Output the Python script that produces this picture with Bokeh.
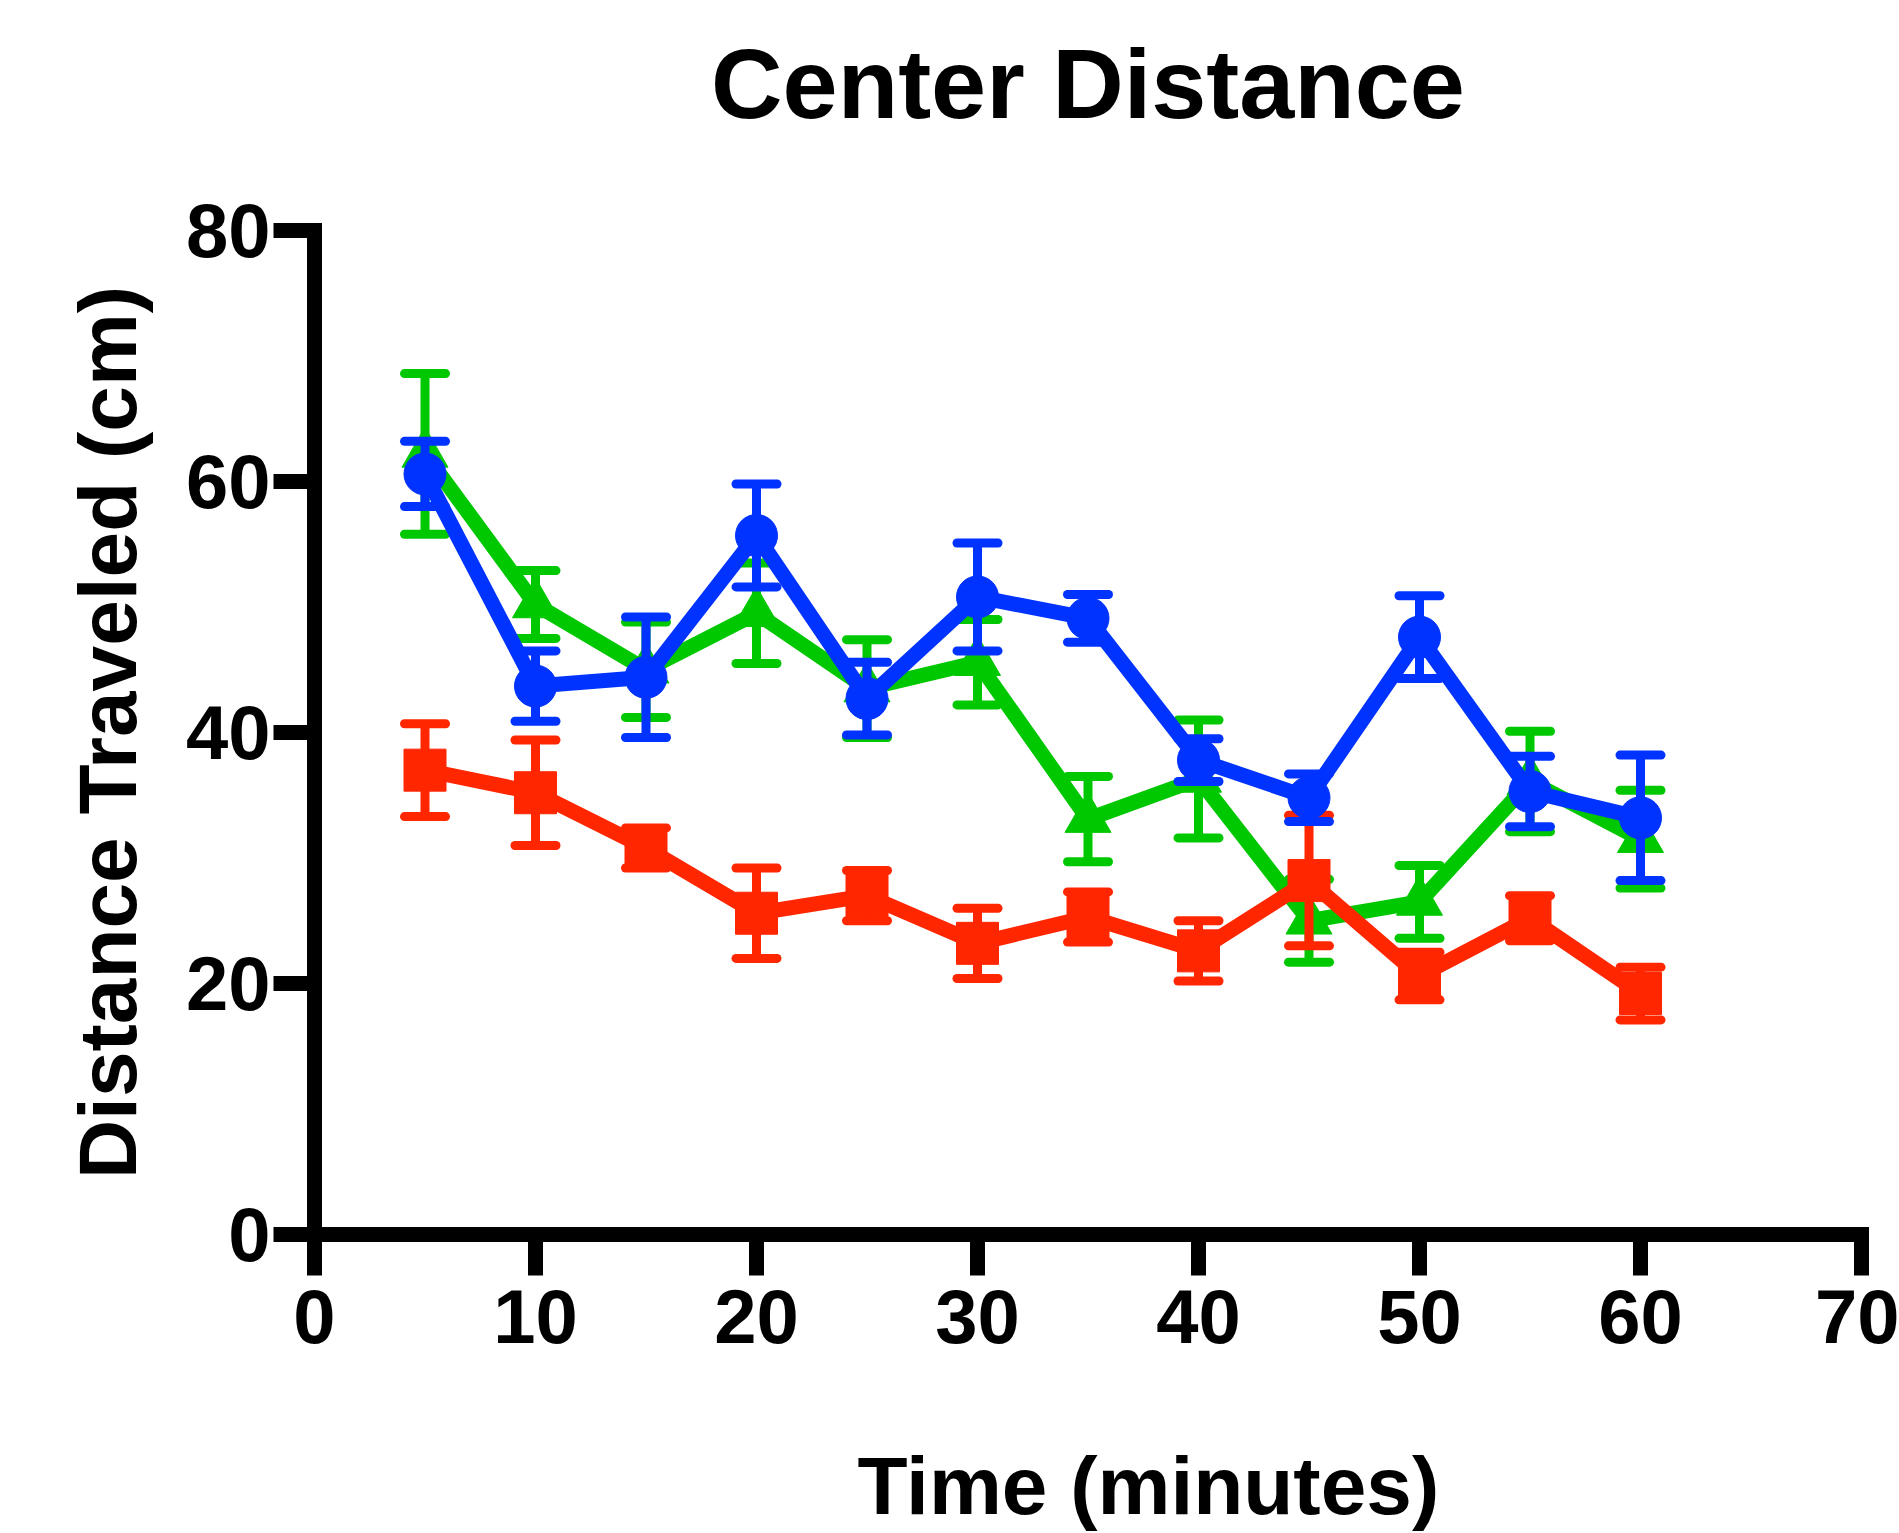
from bokeh.plotting import figure
from bokeh.models import Range1d, FixedTicker, LinearAxis, Title
from bokeh.embed import file_html
from bokeh.resources import INLINE

# ---- data ----
time_min = [5, 10, 15, 20, 25, 30, 35, 40, 45, 50, 55, 60]

green_mean = [62.2, 50.2, 45.0, 49.5, 43.5, 45.6, 33.1, 36.3, 25.0, 26.5, 36.1, 31.5]
green_sem = [6.4, 2.7, 3.8, 4.0, 3.9, 3.4, 3.4, 4.7, 3.3, 2.9, 4.0, 3.9]

red_mean = [37.0, 35.2, 30.8, 25.6, 27.0, 23.2, 25.3, 22.6, 28.2, 20.6, 25.2, 19.2]
red_sem = [3.7, 4.2, 1.6, 3.6, 2.0, 2.8, 2.0, 2.4, 5.2, 1.9, 1.8, 2.1]

blue_mean = [60.6, 43.7, 44.4, 55.7, 42.7, 50.8, 49.1, 37.8, 34.8, 47.6, 35.3, 33.2]
blue_sem = [2.6, 2.8, 4.8, 4.1, 2.9, 4.3, 1.9, 1.7, 1.9, 3.3, 2.8, 5.0]

x_ticks = [0, 10, 20, 30, 40, 50, 60, 70]
y_ticks = [0, 20, 40, 60, 80]

title_text = "Center Distance"
x_label_text = "Time (minutes)"
y_label_text = "Distance Traveled (cm)"

FONT = "Liberation Sans"

p = figure(frame_width=1547, frame_height=1004, title=None,
           x_range=Range1d(0, 70), y_range=Range1d(0, 80),
           output_backend="svg", toolbar_location=None,
           min_border_left=314, min_border_right=38,
           min_border_top=230, min_border_bottom=298)

p.outline_line_color = None
p.grid.visible = False
p.background_fill_color = "white"
p.border_fill_color = "white"

for ax in (p.xaxis[0], p.yaxis[0]):
    ax.axis_line_width = 15
    ax.axis_line_color = "black"
    ax.axis_line_cap = "square"
    ax.major_tick_line_width = 15
    ax.major_tick_line_color = "black"
    ax.major_tick_in = 0
    ax.major_tick_out = 41
    ax.minor_tick_line_color = None
    ax.major_label_text_font = FONT
    ax.major_label_text_font_style = "bold"
    ax.major_label_text_font_size = "76px"
    ax.major_label_text_color = "black"

p.xaxis.ticker = FixedTicker(ticks=x_ticks)
p.yaxis.ticker = FixedTicker(ticks=y_ticks)
p.xaxis.major_label_standoff = 14
p.yaxis.major_label_standoff = 3

p.yaxis.axis_label = y_label_text
p.yaxis.axis_label_text_font = FONT
p.yaxis.axis_label_text_font_style = "bold"
p.yaxis.axis_label_text_font_size = "82px"
p.yaxis.axis_label_text_color = "black"
p.yaxis.axis_label_standoff = 30

# chart title (above the frame), carried by a tick-less, line-less axis
p.add_layout(LinearAxis(ticker=FixedTicker(ticks=[]),
                        axis_line_color=None, major_tick_line_color=None,
                        minor_tick_line_color=None, major_tick_in=0, major_tick_out=0,
                        minor_tick_in=0, minor_tick_out=0, major_label_standoff=0,
                        axis_label=title_text, axis_label_standoff=92,
                        axis_label_text_font=FONT, axis_label_text_font_style="bold",
                        axis_label_text_font_size="99px", axis_label_text_color="black"),
             "above")

# invisible spacer below the x tick labels (one white tick, no label text)
spacer_tick = 35
p.add_layout(LinearAxis(ticker=FixedTicker(ticks=[spacer_tick]),
                        major_label_overrides={spacer_tick: ""},
                        major_label_text_font_size="1px", major_label_standoff=0,
                        axis_line_color=None, major_tick_line_color="white",
                        major_tick_line_width=1, major_tick_in=0, major_tick_out=92,
                        minor_tick_line_color=None, minor_tick_in=0, minor_tick_out=0),
             "below")

# x-axis title, offset right of the frame's left edge as in the reference
p.add_layout(Title(text=x_label_text, align="left", offset=543, standoff=0,
                   text_font=FONT, text_font_style="bold", text_font_size="82px",
                   text_color="black"), "below")

series = [
    (green_mean, green_sem, "#00C800", "triangle", 46),
    (red_mean, red_sem, "#FF2600", "square", 42),
    (blue_mean, blue_sem, "#0033FF", "circle", 42),
]

for mean, sem, color, marker, msize in series:
    lo = [m - s for m, s in zip(mean, sem)]
    hi = [m + s for m, s in zip(mean, sem)]
    p.line(time_min, mean, line_width=15, line_color=color, line_join="round")
    p.segment(time_min, lo, time_min, hi, line_width=9, line_color=color)
    p.scatter(time_min, lo, marker="dash", size=41, line_width=9,
              line_color=color, line_cap="round")
    p.scatter(time_min, hi, marker="dash", size=41, line_width=9,
              line_color=color, line_cap="round")
    p.scatter(time_min, mean, marker=marker, size=msize,
              fill_color=color, line_color=color, line_width=1)

open("out.html", "w").write(file_html(p, INLINE))
